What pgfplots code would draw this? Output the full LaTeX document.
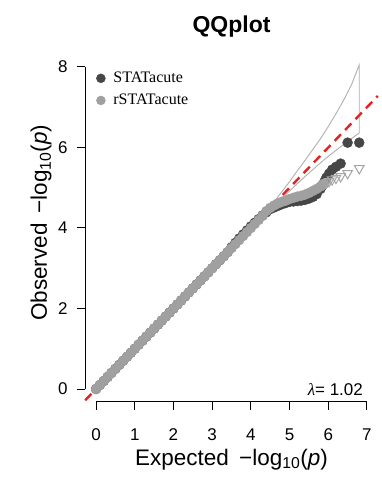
\documentclass[border=0pt]{standalone}
\usepackage{pgfplots}
\pgfplotsset{compat=1.18}
\usepackage{fontspec}
\setmainfont{Liberation Sans}
\newfontfamily\serif{Liberation Serif}
\definecolor{darkpt}{RGB}{70,70,70}
\definecolor{lightpt}{RGB}{160,160,160}
\definecolor{bandcol}{RGB}{175,175,175}
\definecolor{redl}{RGB}{225,35,35}
\definecolor{tricol}{RGB}{165,165,165}
\begin{document}
\begin{tikzpicture}
\useasboundingbox (-85.2pt,-93.1pt) rectangle (296.8pt,401.9pt);
\begin{axis}[
  scale only axis, width=292.6pt, height=347.8pt,
  xmin=-0.28, xmax=7.28, ymin=-0.32, ymax=8.32,
  clip=false,
  separate axis lines,
  axis x line*=bottom, axis y line*=left,
  axis line style={draw=none},
  tick align=outside, major tick length=8pt,
  tick style={black, line width=1pt},
  xtick={0,1,...,7}, ytick={0,2,4,6,8},
  /pgf/number format/assume math mode=true,
  ticklabel style={font=\fontsize{17}{17}\selectfont},
  xticklabel style={anchor=base, yshift=-31pt},
  yticklabel style={anchor=east, xshift=-6pt},
  xlabel={Expected\hspace{0.45em}−log\textsubscript{10}(\textit{p})},
  ylabel={Observed\hspace{0.45em}−log\textsubscript{10}(\textit{p})},
  label style={font=\fontsize{22.5}{22.5}\selectfont},
  xlabel style={at={(axis description cs:0.5,0)}, anchor=base, yshift=-63.1pt},
  ylabel style={at={(axis description cs:0,0.515)}, anchor=base, yshift=38.2pt},
  legend style={draw=none, fill=none, at={(axis description cs:0,1)}, anchor=north west,
    xshift=11pt, yshift=-16pt, font=\serif\fontsize{16}{16}\selectfont, row sep=6pt,
    inner sep=0pt, legend cell align=left,
    nodes={inner xsep=0pt},
    /tikz/every odd column/.append style={column sep=8pt}},
  legend image code/.code={\draw[#1] plot coordinates {(0pt,0pt)};},
]
% confidence band
\addplot[bandcol, line width=0.9pt, forget plot] coordinates {
 (3.0,3.0) (3.5,3.5) (4.0,3.99) (4.3,4.28) (4.6,4.57) (4.8,4.74) (5.0,4.92) (5.2,5.10) (5.4,5.28)
 (5.6,5.45) (5.8,5.62) (6.0,5.78) (6.2,5.93) (6.4,6.08) (6.6,6.22) (6.8,6.36)
 (6.8,8.05) (6.6,7.56) (6.4,7.18) (6.2,6.84) (6.0,6.52) (5.8,6.22) (5.6,5.95) (5.4,5.68)
 (5.2,5.42) (5.0,5.15) (4.8,4.9) (4.6,4.65) (4.3,4.33) (4.0,4.02) (3.5,3.51) (3.0,3.0)};
% identity line
\addplot[redl, line width=2.4pt, dash pattern=on 9pt off 6pt, forget plot] coordinates {(-0.28,-0.28) (7.28,7.28)};
% STATacute
\addplot[only marks, mark=*, mark size=5pt, color=darkpt, forget plot] coordinates {
 (0,0) (0.1,0.1) (0.2,0.2) (0.3,0.3) (0.4,0.4) (0.5,0.5) (0.6,0.6) (0.7,0.7) (0.8,0.8) (0.9,0.9)
 (1.0,1.0) (1.1,1.1) (1.2,1.2) (1.3,1.3) (1.4,1.4) (1.5,1.5) (1.6,1.6) (1.7,1.7) (1.8,1.8) (1.9,1.9)
 (2.0,2.0) (2.1,2.1) (2.2,2.2) (2.3,2.3) (2.4,2.4) (2.5,2.5) (2.6,2.6) (2.7,2.7) (2.8,2.8) (2.9,2.9)
 (3.0,3.0) (3.1,3.1) (3.2,3.2) (3.3,3.3) (3.4,3.4) (3.5,3.52) (3.6,3.63) (3.7,3.74) (3.8,3.84) (3.9,3.94)
 (4.0,4.04) (4.1,4.13) (4.2,4.22) (4.3,4.31) (4.4,4.39) (4.5,4.47) (4.6,4.51) (4.7,4.55) (4.8,4.59) (4.9,4.62)
 (5.0,4.65) (5.1,4.66) (5.2,4.67) (5.3,4.68) (5.4,4.7) (5.5,4.73) (5.6,4.77) (5.7,4.84) (5.8,4.97)
 (5.85,5.06) (5.9,5.15) (5.95,5.25) (6.02,5.35) (6.10,5.45) (6.20,5.52) (6.32,5.6) (6.50,6.12) (6.80,6.12)};
% rSTATacute
\addplot[only marks, mark=*, mark size=5pt, color=lightpt, forget plot] coordinates {
 (0,0) (0.1,0.1) (0.2,0.2) (0.3,0.3) (0.4,0.4) (0.5,0.5) (0.6,0.6) (0.7,0.7) (0.8,0.8) (0.9,0.9)
 (1.0,1.0) (1.1,1.1) (1.2,1.2) (1.3,1.3) (1.4,1.4) (1.5,1.5) (1.6,1.6) (1.7,1.7) (1.8,1.8) (1.9,1.9)
 (2.0,2.0) (2.1,2.1) (2.2,2.2) (2.3,2.3) (2.4,2.4) (2.5,2.5) (2.6,2.6) (2.7,2.7) (2.8,2.8) (2.9,2.9)
 (3.0,3.0) (3.1,3.1) (3.2,3.2) (3.3,3.3) (3.4,3.4) (3.5,3.5) (3.6,3.6) (3.7,3.7) (3.8,3.8) (3.9,3.9)
 (4.0,4.0) (4.1,4.1) (4.2,4.2) (4.3,4.3) (4.4,4.42) (4.5,4.5) (4.6,4.56) (4.7,4.61) (4.8,4.65) (4.9,4.68)
 (5.0,4.72) (5.1,4.75) (5.2,4.78) (5.3,4.8) (5.4,4.83) (5.5,4.87) (5.6,4.92) (5.7,4.97) (5.8,5.03)
 (5.85,5.07) (5.9,5.1)};
\addplot[only marks, mark=triangle, mark size=5.5pt, mark options={rotate=180, line width=1pt}, color=tricol, forget plot] coordinates {
 (5.95,5.13) (6.02,5.16) (6.10,5.2) (6.20,5.24) (6.32,5.28) (6.50,5.36) (6.80,5.48)};
% legend
\addlegendimage{only marks, mark=*, mark size=4.5pt, color=darkpt}
\addlegendentry{STATacute}
\addlegendimage{only marks, mark=*, mark size=4.5pt, color=lightpt}
\addlegendentry{rSTATacute}
% axis lines
\draw[black, line width=1pt] (axis cs:0,-0.32) -- (axis cs:7,-0.32);
\draw[black, line width=1pt] (axis cs:-0.28,0) -- (axis cs:-0.28,8);
% lambda
\node[anchor=base east, font=\fontsize{17}{17}\selectfont, inner sep=0pt] at (axis cs:6.9,-0.15) {{\serif\itshape λ}= 1.02};
% title
\node[anchor=base, font=\bfseries\fontsize{23}{23}\selectfont, inner sep=0pt] at (rel axis cs:0.5,1) [yshift=21.1pt] {QQplot};
\end{axis}
\end{tikzpicture}
\end{document}
